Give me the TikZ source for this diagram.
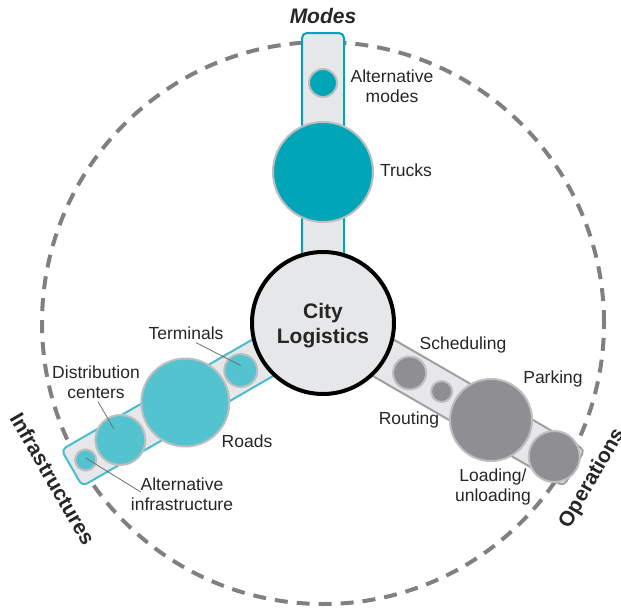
\documentclass[tikz,border=0pt]{standalone}
\usepackage{fontspec}
\setmainfont{Liberation Sans}
\usetikzlibrary{calc}
\definecolor{tealA}{RGB}{0,166,183}
\definecolor{tealB}{RGB}{82,195,207}
\definecolor{tealline}{RGB}{70,190,203}
\definecolor{opsgray}{RGB}{143,143,147}
\definecolor{opsline}{RGB}{160,160,162}
\definecolor{barfill}{RGB}{230,231,233}
\definecolor{ringgray}{RGB}{128,128,128}
\definecolor{rimgray}{RGB}{190,190,192}
\definecolor{leadgray}{RGB}{110,110,110}
\tikzset{
  barbox/.style={rectangle, fill=barfill, line width=2pt, rounded corners=5pt,
    inner sep=0pt, minimum width=232pt, minimum height=42pt},
  sub/.style={circle, draw=rimgray, line width=2pt, inner sep=0pt},
  lbl/.style={inner sep=0pt, align=center, font=\fontsize{17.5}{20}\selectfont, text=black!85},
  grp/.style={inner sep=0pt, font=\fontsize{21}{25}\selectfont\bfseries, text=black!85},
  leader/.style={leadgray, line width=0.8pt}
}
\begin{document}
\begin{tikzpicture}[x=1pt,y=1pt]
\useasboundingbox (0,0) rectangle (621,-613);
\coordinate (C) at (323,-323);
% outer dashed ring
\draw[ringgray, line width=4pt, dash pattern=on 13pt off 9pt] (C) circle (281pt);
% bars
\node[barbox, draw=tealA, rotate=90] (modesbar) at ($(C)+(90:174pt)$) {};
\node[barbox, draw=tealline, rotate=30] (infrabar) at ($(C)+(210:174pt)$) {};
\node[barbox, draw=opsline, rotate=-30] (opsbar) at ($(C)+(330:174pt)$) {};
% center
\node[circle, draw=black, line width=4pt, fill=barfill, minimum size=142pt, inner sep=0pt] (city) at (C) {};
\node[inner sep=0pt, align=center, font=\fontsize{21}{25}\selectfont\bfseries, text=black!85]
  (citytxt) at ([yshift=-3pt]city.center) {City\\Logistics};
% modes circles
\node[sub, fill=tealA, minimum size=28pt] (altm) at ($(C)+(90:240pt)$) {};
\node[sub, fill=tealA, minimum size=100pt] (trucks) at ($(C)+(90:151pt)$) {};
% infrastructure circles
\node[sub, fill=tealB, minimum size=33pt] (term) at ($(C)+(210:95pt)$) {};
\node[sub, fill=tealB, minimum size=88pt] (roads) at ($(C)+(210:159pt)$) {};
\node[sub, fill=tealB, minimum size=50pt] (dc) at ($(C)+(210:234pt)$) {};
\node[sub, fill=tealB, minimum size=21pt] (ai) at ($(C)+(210:274pt)$) {};
% operations circles
\node[sub, fill=opsgray, minimum size=33pt] (ops1) at ($(C)+(330:100pt)$) {};
\node[sub, fill=opsgray, minimum size=21pt] (ops2) at ($(C)+(330:137pt)$) {};
\node[sub, fill=opsgray, minimum size=82pt] (ops3) at ($(C)+(330:194pt)$) {};
\node[sub, fill=opsgray, minimum size=51pt] (ops4) at ($(C)+(330:267pt)$) {};
% group labels
\node[grp, font=\fontsize{21}{25}\selectfont\bfseries\itshape] (modesl) at (323,-16) {Modes};
\node[grp, rotate=-60] (infral) at ($(C)+(210:312pt)$) {Infrastructures};
\node[grp, rotate=60] (opsl) at ($(C)+(330:311pt)$) {Operations};
% item labels
\node[lbl] (altml) at (392,-86) {Alternative\\modes};
\node[lbl] (truckl) at (406,-170) {Trucks};
\node[lbl] (terml) at (186,-333) {Terminals};
\node[lbl] (dcl) at (96,-382) {Distribution\\centers};
\node[lbl] (roadl) at (247,-441) {Roads};
\node[lbl] (ail) at (182,-494) {Alternative\\infrastructure};
\node[lbl] (schl) at (463,-345) {Scheduling};
\node[lbl] (parkl) at (553,-379) {Parking};
\node[lbl] (routl) at (409,-420) {Routing};
\node[lbl] (loadl) at (493,-487) {Loading/\\unloading};
% leaders
\draw[leader] ([xshift=10pt,yshift=-3pt]terml.south) -- ([yshift=5pt]term.center);
\draw[leader] ([xshift=2pt,yshift=-3pt]dcl.south) -- ($(dcl.south)!0.72!(dc.center)$);
\draw[leader] ([yshift=2pt]ai.center) -- ([xshift=10pt,yshift=2pt]ail.west);
\end{tikzpicture}
\end{document}
